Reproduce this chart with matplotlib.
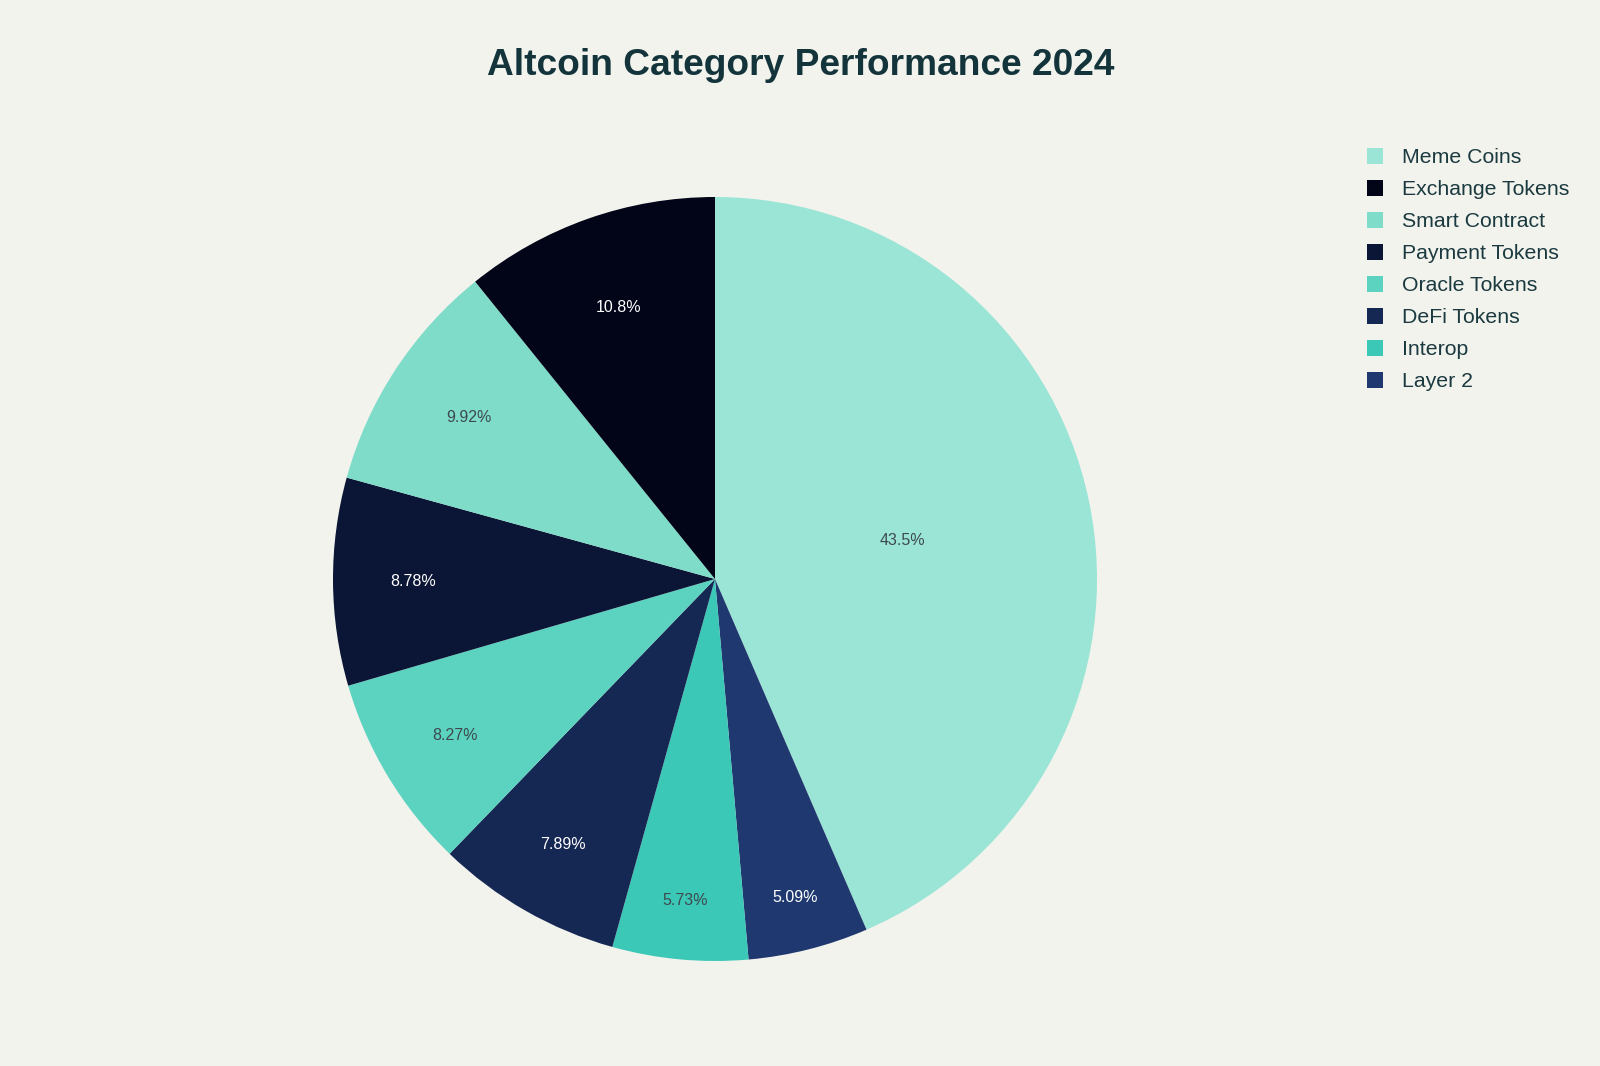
import matplotlib
matplotlib.use("Agg")
import matplotlib.pyplot as plt
import numpy as np

# data (pie order, clockwise from 12 o'clock)
categories = ["Meme Coins", "Layer 2", "Interop", "DeFi Tokens",
              "Oracle Tokens", "Payment Tokens", "Smart Contract", "Exchange Tokens"]
values = [43.5, 5.09, 5.73, 7.89, 8.27, 8.78, 9.92, 10.8]
legend_order = ["Meme Coins", "Exchange Tokens", "Smart Contract", "Payment Tokens",
                "Oracle Tokens", "DeFi Tokens", "Interop", "Layer 2"]
title = "Altcoin Category Performance 2024"

# styles
colors = {"Meme Coins": "#9AE5D5", "Exchange Tokens": "#020418", "Smart Contract": "#7EDCC9",
          "Payment Tokens": "#0B1535", "Oracle Tokens": "#5CD3C0", "DeFi Tokens": "#152753",
          "Interop": "#3CC8B7", "Layer 2": "#1F386F"}
dark = {"Exchange Tokens", "Payment Tokens", "DeFi Tokens", "Layer 2"}
label_r = [0.50, 0.86, 0.845, 0.80, 0.795, 0.79, 0.77, 0.755]

bg = "#F3F3EE"
W, H = 1600, 1066
fig = plt.figure(figsize=(16, 10.66), dpi=100, facecolor=bg)
cx, cy, R = 715, 579, 382
ax = fig.add_axes([(cx - R) / W, (H - cy - R) / H, 2 * R / W, 2 * R / H])
ax.set_facecolor(bg)
wedges, _ = ax.pie(values, colors=[colors[c] for c in categories], startangle=90,
                   counterclock=False, radius=1.0,
                   wedgeprops=dict(linewidth=0))
ax.set_xlim(-1, 1)
ax.set_ylim(-1, 1)
ax.set_aspect("equal")
ax.axis("off")

for w, c, v, r in zip(wedges, categories, values, label_r):
    mid = np.deg2rad((w.theta1 + w.theta2) / 2)
    ax.text(r * np.cos(mid), r * np.sin(mid), f"{v:g}%", ha="center", va="center",
            fontsize=11.5, family="Liberation Sans",
            color="white" if c in dark else "#3D4A4F")

fig.text(801 / W, 1 - 65 / H, title, ha="center", va="center",
         fontsize=26.7, fontweight="bold", family="Liberation Sans", color="#13343B")

handles = [wedges[categories.index(n)] for n in legend_order]
leg = fig.legend(handles, legend_order, loc="upper left",
                 bbox_to_anchor=(1367 / W, 1 - 148 / H), frameon=False,
                 prop=dict(family="Liberation Sans", size=15.3),
                 handlelength=0.76, handleheight=0.76, handletextpad=0.89,
                 labelspacing=0.6, borderaxespad=0, borderpad=0)
for t in leg.get_texts():
    t.set_color("#1B3A40")

fig.savefig("out.png", dpi=100, facecolor=bg)
